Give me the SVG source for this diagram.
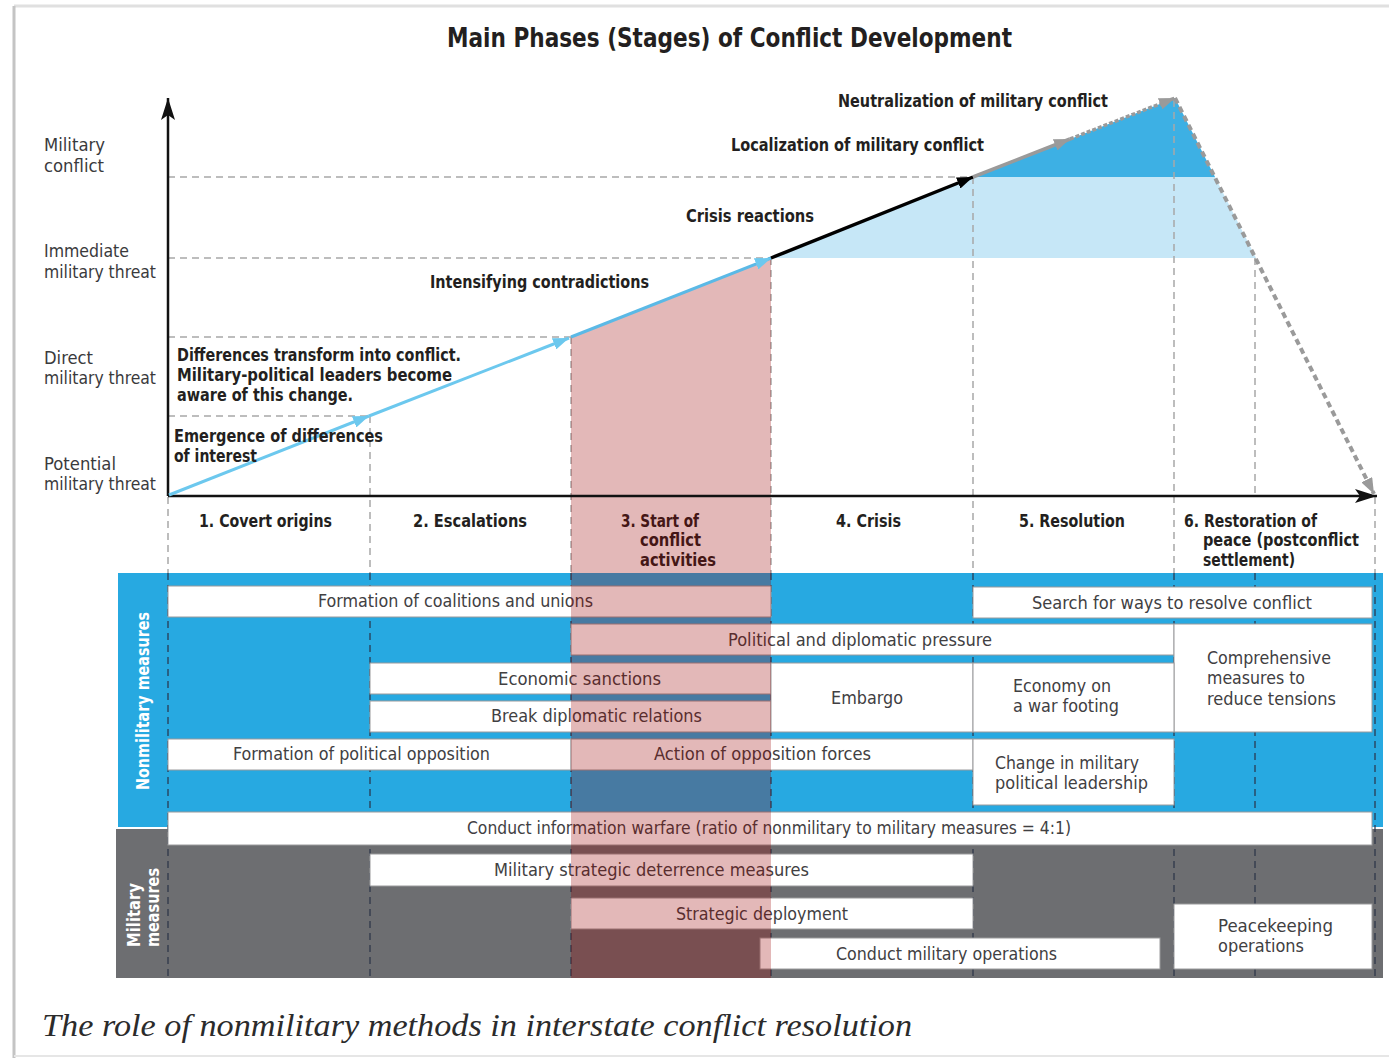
<svg xmlns="http://www.w3.org/2000/svg" width="1389" height="1058" viewBox="0 0 1389 1058">
<defs>
<style>
.cond{font-family:"DejaVu Sans Condensed","DejaVu Sans","Liberation Sans",sans-serif;font-stretch:condensed}
.t{font-size:18px;fill:#231f20;font-weight:bold}
.ax{font-size:18px;fill:#3a3a3c}
.bt{font-size:18px;fill:#414042}
.mid{text-anchor:middle}
.box{fill:#ffffff;stroke:#9a9a9c;stroke-width:1}
.dg{stroke:#a8a8a8;stroke-width:1.5;stroke-dasharray:7 5;fill:none}
.dk{stroke:#2b3346;stroke-width:1.5;stroke-dasharray:7 5;fill:none;opacity:0.8}
.side{font-family:"DejaVu Sans","Liberation Sans",sans-serif;font-weight:bold;font-size:17px;fill:#ffffff}
</style>
<marker id="aBlue" viewBox="0 0 16 12" refX="16" refY="6" markerUnits="userSpaceOnUse" markerWidth="16" markerHeight="12" orient="auto"><path d="M0,0 L16,6 L0,12 z" fill="#6cc8ee"/></marker>
<marker id="aBlack" viewBox="0 0 16 12" refX="16" refY="6" markerUnits="userSpaceOnUse" markerWidth="16" markerHeight="12" orient="auto"><path d="M0,0 L16,6 L0,12 z" fill="#000000"/></marker>
<marker id="aGray" viewBox="0 0 16 12" refX="16" refY="6" markerUnits="userSpaceOnUse" markerWidth="16" markerHeight="12" orient="auto"><path d="M0,0 L16,6 L0,12 z" fill="#9a9a9a"/></marker>
<marker id="aAxis" viewBox="0 0 22 14" refX="22" refY="7" markerUnits="userSpaceOnUse" markerWidth="22" markerHeight="14" orient="auto"><path d="M0,0 L22,7 L0,14 L5,7 z" fill="#111111"/></marker>
</defs>

<rect x="0" y="0" width="1389" height="1058" fill="#ffffff"/>
<line x1="14" y1="6" x2="1389" y2="6" stroke="#e0e0e0" stroke-width="3"/>
<line x1="14" y1="6" x2="14" y2="1058" stroke="#c4c4c4" stroke-width="3"/>
<line x1="14" y1="1056" x2="1389" y2="1056" stroke="#e6e6e6" stroke-width="2"/>

<text class="cond" x="729.5" y="47" text-anchor="middle" font-size="26" font-weight="bold" fill="#231f20" textLength="565" lengthAdjust="spacingAndGlyphs">Main Phases (Stages) of Conflict Development</text>

<!-- chart areas -->
<g id="areas">
<polygon points="771,258 973,177 1215,177 1256,258" fill="#c6e7f7"/>
<polygon points="973,177 1175,98 1215,177" fill="#3db0e4"/>
</g>

<!-- chart guide lines -->
<g id="guides">
<line class="dg" x1="168" y1="177" x2="973" y2="177"/>
<line class="dg" x1="168" y1="258" x2="771" y2="258"/>
<line class="dg" x1="168" y1="337" x2="571" y2="337"/>
<line class="dg" x1="168" y1="416" x2="370" y2="416"/>
<line class="dg" x1="168" y1="497" x2="168" y2="573"/>
<line class="dg" x1="370" y1="416" x2="370" y2="573"/>
<line class="dg" x1="571" y1="337" x2="571" y2="573"/>
<line class="dg" x1="771" y1="258" x2="771" y2="573"/>
<line class="dg" x1="973" y1="177" x2="973" y2="573"/>
<line class="dg" x1="1174" y1="100" x2="1174" y2="573"/>
<line class="dg" x1="1255" y1="258" x2="1255" y2="497"/>
<line class="dg" x1="1375" y1="497" x2="1375" y2="573"/>
</g>

<!-- y-axis labels -->
<g id="ylabels" class="cond ax">
<text x="44" y="151" textLength="61" lengthAdjust="spacingAndGlyphs">Military</text>
<text x="44" y="172" textLength="60" lengthAdjust="spacingAndGlyphs">conflict</text>
<text x="44" y="257" textLength="85" lengthAdjust="spacingAndGlyphs">Immediate</text>
<text x="44" y="278" textLength="112" lengthAdjust="spacingAndGlyphs">military threat</text>
<text x="44" y="364" textLength="49" lengthAdjust="spacingAndGlyphs">Direct</text>
<text x="44" y="384" textLength="112" lengthAdjust="spacingAndGlyphs">military threat</text>
<text x="44" y="470" textLength="72" lengthAdjust="spacingAndGlyphs">Potential</text>
<text x="44" y="490" textLength="112" lengthAdjust="spacingAndGlyphs">military threat</text>
</g>

<!-- phase labels -->
<g id="phases" class="cond t">
<text x="199" y="527" textLength="133" lengthAdjust="spacingAndGlyphs">1. Covert origins</text>
<text x="413" y="527" textLength="114" lengthAdjust="spacingAndGlyphs">2. Escalations</text>
<text x="621" y="527" textLength="78" lengthAdjust="spacingAndGlyphs">3. Start of</text>
<text x="640" y="546" textLength="61" lengthAdjust="spacingAndGlyphs">conflict</text>
<text x="640" y="566" textLength="76" lengthAdjust="spacingAndGlyphs">activities</text>
<text x="836" y="527" textLength="65" lengthAdjust="spacingAndGlyphs">4. Crisis</text>
<text x="1019" y="527" textLength="106" lengthAdjust="spacingAndGlyphs">5. Resolution</text>
<text x="1184" y="527" textLength="133" lengthAdjust="spacingAndGlyphs">6. Restoration of</text>
<text x="1203" y="546" textLength="156" lengthAdjust="spacingAndGlyphs">peace (postconflict</text>
<text x="1203" y="566" textLength="92" lengthAdjust="spacingAndGlyphs">settlement)</text>
</g>

<!-- bands -->
<g id="bands">
<rect x="118" y="573" width="1265" height="254" fill="#27a9e1"/>
<rect x="116" y="829" width="1267" height="149" fill="#6d6e71"/>
<text class="side" transform="translate(149,701) rotate(-90)" text-anchor="middle" textLength="178" lengthAdjust="spacingAndGlyphs">Nonmilitary measures</text>
<text class="side" transform="translate(140,947) rotate(-90)" textLength="64" lengthAdjust="spacingAndGlyphs">Military</text>
<text class="side" transform="translate(159,947) rotate(-90)" textLength="79" lengthAdjust="spacingAndGlyphs">measures</text>
</g>

<g id="table-grid">
<line class="dk" x1="168" y1="573" x2="168" y2="978"/>
<line class="dk" x1="370" y1="573" x2="370" y2="978"/>
<line class="dk" x1="571" y1="573" x2="571" y2="978"/>
<line class="dk" x1="771" y1="573" x2="771" y2="978"/>
<line class="dk" x1="973" y1="573" x2="973" y2="978"/>
<line class="dk" x1="1174" y1="573" x2="1174" y2="978"/>
<line class="dk" x1="1255" y1="573" x2="1255" y2="978"/>
<line class="dk" x1="1375" y1="573" x2="1375" y2="978"/>
</g>

<!-- boxes -->
<g id="n-coalitions"><rect class="box" x="168" y="586" width="603" height="31"/><text class="cond bt" x="318" y="607" textLength="275" lengthAdjust="spacingAndGlyphs">Formation of coalitions and unions</text></g>
<g id="n-search"><rect class="box" x="973" y="587" width="399" height="31"/><text class="cond bt" x="1032" y="609" textLength="280" lengthAdjust="spacingAndGlyphs">Search for ways to resolve conflict</text></g>
<g id="n-pressure"><rect class="box" x="571" y="624" width="603" height="31"/><text class="cond bt" x="728" y="646" textLength="264" lengthAdjust="spacingAndGlyphs">Political and diplomatic pressure</text></g>
<g id="n-comprehensive"><rect class="box" x="1174" y="624" width="198" height="108"/>
<text class="cond bt" x="1207" y="664" textLength="124" lengthAdjust="spacingAndGlyphs">Comprehensive</text>
<text class="cond bt" x="1207" y="684" textLength="98" lengthAdjust="spacingAndGlyphs">measures to</text>
<text class="cond bt" x="1207" y="705" textLength="129" lengthAdjust="spacingAndGlyphs">reduce tensions</text></g>
<g id="n-sanctions"><rect class="box" x="370" y="663" width="401" height="31"/><text class="cond bt" x="498" y="685" textLength="163" lengthAdjust="spacingAndGlyphs">Economic sanctions</text></g>
<g id="n-break"><rect class="box" x="370" y="701" width="401" height="31"/><text class="cond bt" x="491" y="722" textLength="211" lengthAdjust="spacingAndGlyphs">Break diplomatic relations</text></g>
<g id="n-embargo"><rect class="box" x="771" y="663" width="202" height="69"/><text class="cond bt" x="831" y="704" textLength="72" lengthAdjust="spacingAndGlyphs">Embargo</text></g>
<g id="n-economy"><rect class="box" x="973" y="663" width="201" height="69"/>
<text class="cond bt" x="1013" y="692" textLength="98" lengthAdjust="spacingAndGlyphs">Economy on</text>
<text class="cond bt" x="1013" y="712" textLength="106" lengthAdjust="spacingAndGlyphs">a war footing</text></g>
<g id="n-opposition"><rect class="box" x="168" y="739" width="403" height="31"/><text class="cond bt" x="233" y="760" textLength="257" lengthAdjust="spacingAndGlyphs">Formation of political opposition</text></g>
<g id="n-action"><rect class="box" x="571" y="739" width="402" height="31"/><text class="cond bt" x="654" y="760" textLength="217" lengthAdjust="spacingAndGlyphs">Action of opposition forces</text></g>
<g id="n-change"><rect class="box" x="973" y="739" width="201" height="66"/>
<text class="cond bt" x="995" y="769" textLength="144" lengthAdjust="spacingAndGlyphs">Change in military</text>
<text class="cond bt" x="995" y="789" textLength="153" lengthAdjust="spacingAndGlyphs">political leadership</text></g>
<g id="n-info"><rect class="box" x="168" y="812" width="1204" height="33"/><text class="cond bt" x="467" y="834" textLength="604" lengthAdjust="spacingAndGlyphs">Conduct information warfare (ratio of nonmilitary to military measures = 4:1)</text></g>
<g id="n-deterrence"><rect class="box" x="370" y="854" width="603" height="32"/><text class="cond bt" x="494" y="876" textLength="315" lengthAdjust="spacingAndGlyphs">Military strategic deterrence measures</text></g>
<g id="n-deployment"><rect class="box" x="571" y="898" width="402" height="31"/><text class="cond bt" x="676" y="920" textLength="172" lengthAdjust="spacingAndGlyphs">Strategic deployment</text></g>
<g id="n-operations"><rect class="box" x="760" y="938" width="400" height="31"/><text class="cond bt" x="836" y="960" textLength="221" lengthAdjust="spacingAndGlyphs">Conduct military operations</text></g>
<g id="n-peacekeeping"><rect class="box" x="1174" y="904" width="198" height="65"/>
<text class="cond bt" x="1218" y="932" textLength="115" lengthAdjust="spacingAndGlyphs">Peacekeeping</text>
<text class="cond bt" x="1218" y="952" textLength="86" lengthAdjust="spacingAndGlyphs">operations</text></g>

<!-- phase 3 highlight -->
<polygon id="phase3-overlay" points="571,337 771,258 771,978 571,978" fill="#9b0000" fill-opacity="0.28"/>

<!-- connectors -->
<g id="connectors" fill="none">
<line x1="168" y1="496" x2="168" y2="98" stroke="#111" stroke-width="2.5" marker-end="url(#aAxis)"/>
<line x1="168" y1="496" x2="1377" y2="496" stroke="#111" stroke-width="2.5" marker-end="url(#aAxis)"/>
<line x1="169" y1="495" x2="369" y2="416" stroke="#6cc8ee" stroke-width="3" marker-end="url(#aBlue)"/>
<line x1="369" y1="416" x2="569" y2="338" stroke="#6cc8ee" stroke-width="3" marker-end="url(#aBlue)"/>
<line x1="571" y1="337" x2="771" y2="258" stroke="#5bb9e6" stroke-width="3" marker-end="url(#aBlue)"/>
<line x1="771" y1="258" x2="973" y2="177" stroke="#000" stroke-width="3.5" marker-end="url(#aBlack)"/>
<line x1="973" y1="177" x2="1070" y2="139" stroke="#9a9a9a" stroke-width="3.5" marker-end="url(#aGray)"/>
<line x1="1070" y1="139" x2="1175" y2="98" stroke="#9a9a9a" stroke-width="3.5" stroke-dasharray="4 2" marker-end="url(#aGray)"/>
<line x1="1175" y1="98" x2="1374" y2="494" stroke="#9a9a9a" stroke-width="4" stroke-dasharray="6 4" marker-end="url(#aGray)"/>
</g>

<!-- chart labels -->
<g id="chart-labels" class="cond t">
<text x="838" y="107" textLength="270" lengthAdjust="spacingAndGlyphs">Neutralization of military conflict</text>
<text x="731" y="151" textLength="253" lengthAdjust="spacingAndGlyphs">Localization of military conflict</text>
<text x="686" y="222" textLength="128" lengthAdjust="spacingAndGlyphs">Crisis reactions</text>
<text x="430" y="288" textLength="219" lengthAdjust="spacingAndGlyphs">Intensifying contradictions</text>
<text x="177" y="361" textLength="284" lengthAdjust="spacingAndGlyphs">Differences transform into conflict.</text>
<text x="177" y="381" textLength="275" lengthAdjust="spacingAndGlyphs">Military-political leaders become</text>
<text x="177" y="401" textLength="176" lengthAdjust="spacingAndGlyphs">aware of this change.</text>
<text x="174" y="442" textLength="209" lengthAdjust="spacingAndGlyphs">Emergence of differences</text>
<text x="174" y="462" textLength="83" lengthAdjust="spacingAndGlyphs">of interest</text>
</g>

<text x="42" y="1036" font-family="Liberation Serif, serif" font-style="italic" font-size="31" fill="#2b2b2b" textLength="870" lengthAdjust="spacingAndGlyphs">The role of nonmilitary methods in interstate conflict resolution</text>
</svg>
